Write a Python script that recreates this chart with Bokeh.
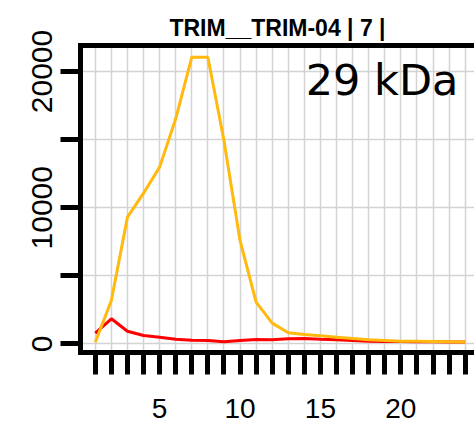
from bokeh.plotting import figure
from bokeh.models import Range1d, FixedTicker, LinearAxis, Label
from bokeh.embed import file_html
from bokeh.resources import INLINE

# ---- data ----
fractions = list(range(1, 25))
orange_vals = [130, 3190, 9310, 11070, 12980, 16530, 21050, 21050, 14930, 7600,
               3070, 1530, 820, 700, 600, 500, 400, 310, 260, 210, 200, 180, 160, 140]
red_vals = [790, 1850, 940, 620, 500, 350, 280, 260, 160, 260,
            330, 310, 380, 400, 350, 310, 260, 210, 190, 180, 170, 160, 150, 140]
x_ticks = list(range(1, 25))
x_tick_labels = {5: "5", 10: "10", 15: "15", 20: "20"}
y_ticks = [0, 5000, 10000, 15000, 20000]
y_tick_labels = {0: "0", 10000: "10000", 20000: "20000"}
title_text = "TRIM__TRIM-04 | 7 |"
mass_text = "29 kDa"

FONT = "Liberation Sans"

x_rng = Range1d(0.08, 24.58)
y_rng = Range1d(-624, 21908)

p = figure(width=474, height=423, x_range=x_rng, y_range=y_rng,
           output_backend="svg", toolbar_location=None,
           min_border_left=80, min_border_right=0,
           min_border_top=45, min_border_bottom=71)
p.outline_line_color = None
p.background_fill_color = "white"
p.border_fill_color = "white"

xa = p.below[0]
ya = p.left[0]

# title
p.title.text = title_text
p.title.align = "center"
p.title.offset = 3
p.title.text_font = FONT
p.title.text_font_style = "bold"
p.title.text_font_size = "23px"
p.title.text_color = "black"

# x axis
xa.ticker = FixedTicker(ticks=x_ticks)
xa.major_label_overrides = {t: x_tick_labels.get(t, "") for t in x_ticks}
xa.axis_line_width = 5
xa.axis_line_cap = "square"
xa.major_tick_line_width = 5
xa.major_tick_out = 22
xa.major_tick_in = 0
xa.minor_tick_out = 0
xa.minor_tick_in = 0
xa.major_label_standoff = 24
xa.major_label_text_font = FONT
xa.major_label_text_font_size = "28px"
xa.major_label_text_color = "black"

# y axis
ya.ticker = FixedTicker(ticks=y_ticks)
ya.major_label_overrides = {t: y_tick_labels.get(t, "") for t in y_ticks}
ya.axis_line_width = 5
ya.axis_line_cap = "square"
ya.major_tick_line_width = 5
ya.major_tick_out = 20
ya.major_tick_in = 0
ya.minor_tick_out = 0
ya.minor_tick_in = 0
ya.major_label_standoff = 8
ya.major_label_orientation = "vertical"
ya.major_label_text_font = FONT
ya.major_label_text_font_size = "30px"
ya.major_label_text_color = "black"

# top border via an empty axis (invisible tick space lifts the title)
top = LinearAxis(ticker=FixedTicker(ticks=[]), major_label_text_font_size="0px",
                 axis_line_width=5, axis_line_cap="square",
                 major_tick_out=10, major_tick_in=0, minor_tick_out=0, minor_tick_in=0,
                 major_tick_line_color=None, major_label_standoff=0)
p.add_layout(top, "above")

# grids
p.xgrid.ticker = FixedTicker(ticks=x_ticks)
p.ygrid.ticker = FixedTicker(ticks=y_ticks)
p.xgrid.grid_line_color = "#D3D3D3"
p.xgrid.grid_line_width = 1.5
p.ygrid.grid_line_color = "#D3D3D3"
p.ygrid.grid_line_width = 1.5

# lines
p.line(fractions, red_vals, line_color="#FF0000", line_width=3)
p.line(fractions, orange_vals, line_color="#FFB90F", line_width=3)

# mass label
p.add_layout(Label(x=23.58, y=19400, text=mass_text, text_align="right",
                   text_baseline="alphabetic", text_font="DejaVu Sans",
                   text_font_size="43px", text_color="black"))

open("out.html", "w").write(file_html(p, INLINE))
